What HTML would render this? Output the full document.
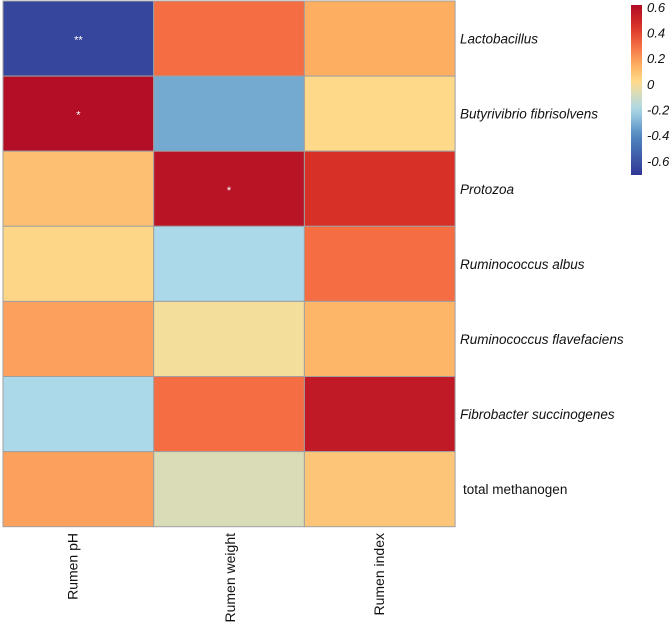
<!DOCTYPE html>
<html><head><meta charset="utf-8"><style>
body{margin:0;background:#fff;width:669px;height:624px;overflow:hidden;font-family:"Liberation Sans",sans-serif}
</style></head><body>
<svg id="chart" width="669" height="624" xmlns="http://www.w3.org/2000/svg">
<defs><linearGradient id="cb" x1="0" y1="1" x2="0" y2="0"></linearGradient></defs>
<g id="cells"></g>
<g id="rowlabels"></g>
<g id="collabels"></g>
<rect x="631" y="5" width="11" height="170" fill="url(#cb)"/>
<g id="cbticks"></g>
</svg>
<script>
const rows=["Lactobacillus","Butyrivibrio fibrisolvens","Protozoa","Ruminococcus albus","Ruminococcus flavefaciens","Fibrobacter succinogenes","total methanogen"];
const cols=["Rumen pH","Rumen weight","Rumen index"];
const values=[
[-0.65,0.30,0.15],
[0.60,-0.32,0.02],
[0.10,0.58,0.45],
[0.03,-0.20,0.30],
[0.18,-0.02,0.13],
[-0.20,0.30,0.55],
[0.18,-0.07,0.08]];
const stars=[["**","",""],["*","",""],["","*",""],["","",""],["","",""],["","",""],["","",""]];
const cbTicks=[0.6,0.4,0.2,0,-0.2,-0.4,-0.6];
const vmin=-0.71,vmax=0.615;
const stops=[[-0.71,"#313695"],[-0.4,"#5089c0"],[-0.2,"#abd9e9"],[-0.06,"#dedbb3"],[0,"#fee090"],[0.15,"#fdae61"],[0.3,"#f46d43"],[0.45,"#d73027"],[0.615,"#b10b26"]];
function hex(c){return [1,3,5].map(i=>parseInt(c.substr(i,2),16));}
function color(v){v=Math.max(vmin,Math.min(vmax,v));for(let i=0;i<stops.length-1;i++){const[a,ca]=stops[i],[b,cb]=stops[i+1];if(v<=b){const t=(v-a)/(b-a),A=hex(ca),B=hex(cb);return "rgb("+A.map((x,k)=>Math.round(x+(B[k]-x)*t)).join(",")+")";}}return stops[stops.length-1][1];}
const x0=3,y0=1,cw=150.7,rh=75.1;
const xs=j=>x0+j*cw, ys=i=>y0+i*rh;
const ns="http://www.w3.org/2000/svg";
const g=document.getElementById('cells');
values.forEach((r,i)=>r.forEach((v,j)=>{
 const re=document.createElementNS(ns,'rect');
 
 
 re.setAttribute('x',xs(j));re.setAttribute('y',ys(i));re.setAttribute('width',cw);re.setAttribute('height',rh);
 re.setAttribute('fill',color(v));re.setAttribute('stroke','#a0a0a0');re.setAttribute('stroke-width','1');
 g.appendChild(re);
 if(stars[i][j]){const t=document.createElementNS(ns,'text');
  
  
  t.setAttribute('x',xs(j)+cw/2);t.setAttribute('y',ys(i)+rh/2+5);t.setAttribute('text-anchor','middle');t.setAttribute('fill','#fff');t.setAttribute('font-size','11');t.textContent=stars[i][j];g.appendChild(t);}
}));
const rl=document.getElementById('rowlabels');
rows.forEach((r,i)=>{const t=document.createElementNS(ns,'text');
 
 
 t.setAttribute('x',i==6?463:460);t.setAttribute('y',ys(i)+rh/2+5);t.setAttribute('font-size','13.5');t.setAttribute('fill','#111');
 if(i<6)t.setAttribute('font-style','italic');
 t.textContent=r;rl.appendChild(t);});
const cl=document.getElementById('collabels');
const colOff=[-1,6,4];
cols.forEach((c,j)=>{const cx=xs(j)+cw/2+colOff[j],t=document.createElementNS(ns,'text');
 
 
 t.setAttribute('transform','translate('+cx+',533) rotate(-90)');t.setAttribute('text-anchor','end');t.setAttribute('font-size','14');t.setAttribute('fill','#111');
 t.textContent=c;cl.appendChild(t);});
const grad=document.getElementById('cb');
for(let k=0;k<=20;k++){const v=vmin+(vmax-vmin)*k/20,s=document.createElementNS(ns,'stop');s.setAttribute('offset',(k/20));s.setAttribute('stop-color',color(v));grad.appendChild(s);}
const ct=document.getElementById('cbticks');
const cy=v=>175-(v-vmin)/(vmax-vmin)*170;
cbTicks.forEach(v=>{const t=document.createElementNS(ns,'text');
 
 
 t.setAttribute('x',647);t.setAttribute('y',cy(v)+5);t.setAttribute('font-size','13');t.setAttribute('font-style','italic');t.setAttribute('fill','#111');
 t.textContent=String(v);ct.appendChild(t);});
</script>
</body></html>
